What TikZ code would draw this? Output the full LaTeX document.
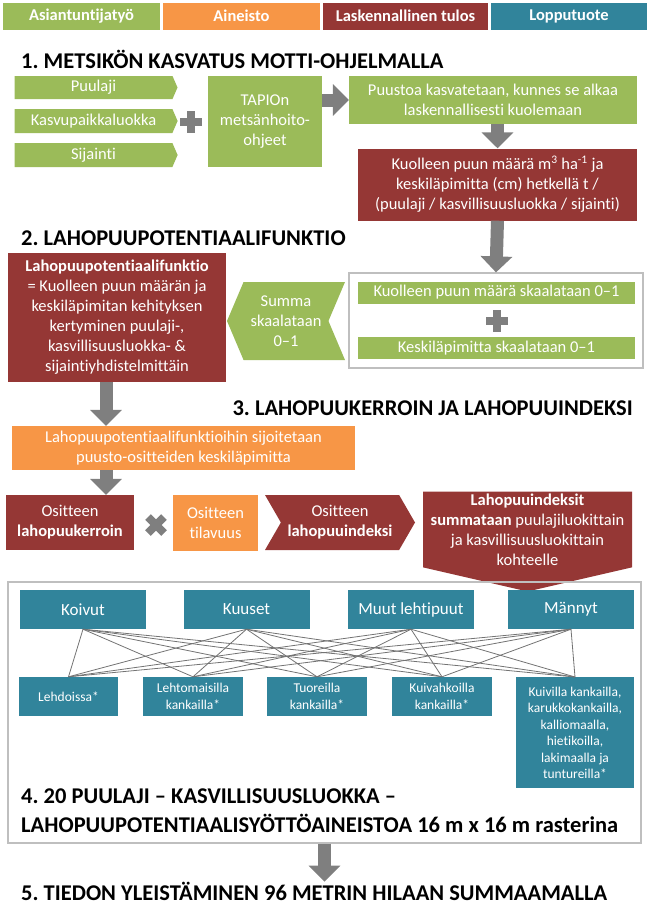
\documentclass[tikz,border=0pt]{standalone}
\usepackage{fontspec}
\setmainfont{Carlito}[Ligatures=NoCommon]
\usepackage{tikz}
\usetikzlibrary{arrows.meta,positioning,shapes.symbols}
\frenchspacing
\definecolor{expertgreen}{HTML}{9BBB59}
\definecolor{dataorange}{HTML}{F79646}
\definecolor{resultred}{HTML}{953735}
\definecolor{productteal}{HTML}{31849B}
\definecolor{arrowgray}{HTML}{7F7F7F}
\definecolor{framegray}{HTML}{BFBFBF}
\tikzset{
  flow-box/.style={inner sep=2pt, align=center, text=white,
    font=\fontsize{16.5}{20}\selectfont},
  expert-box/.style={flow-box, fill=expertgreen},
  data-box/.style={flow-box, fill=dataorange},
  result-box/.style={flow-box, fill=resultred},
  product-box/.style={flow-box, fill=productteal},
  legend-box/.style={flow-box, minimum height=27pt, font=\bfseries\fontsize{16.5}{18}\selectfont},
  stage-title/.style={font=\bfseries\fontsize{22.5}{29}\selectfont, inner sep=0pt, align=left},
  block-arrow/.style={arrowgray, line width=13pt, -{Triangle[length=16pt, width=31pt]}},
  op-mark/.style={arrowgray, line width=8pt},
  frame-box/.style={draw=framegray, line width=1.2pt, inner sep=0pt},
  mesh-line/.style={draw=black!55, line width=0.8pt}
}

\begin{document}
\begin{tikzpicture}[x=1pt, y=-1pt]
  \useasboundingbox (0,0) rectangle (650,918);

  % Legend
  \node[legend-box, fill=expertgreen, minimum width=157pt] (legexp) at (81.5,16) {Asiantuntijatyö};
  \node[legend-box, fill=dataorange, minimum width=157pt] (legdat) at (241.5,16) {Aineisto};
  \node[legend-box, fill=resultred, minimum width=165pt] (legres) at (405.5,16) {Laskennallinen tulos};
  \node[legend-box, fill=productteal, minimum width=156pt] (legpro) at (569,16) {Lopputuote};

  % --- 1. Metsikon kasvatus ---
  \node[stage-title, anchor=west] (title1) at (21,59) {1. METSIKÖN KASVATUS MOTTI-OHJELMALLA};
  \node[expert-box, signal, signal to=east, signal pointer angle=133,
    minimum width=163pt, minimum height=23pt] (s1pu) at (93.5,87.5) {Puulaji};
  \node[expert-box, signal, signal to=east, signal pointer angle=133,
    minimum width=163pt, minimum height=24pt] (s1kas) at (93.5,121) {Kasvupaikkaluokka};
  \node[expert-box, signal, signal to=east, signal pointer angle=133,
    minimum width=163pt, minimum height=24pt] (s1sij) at (93.5,155) {Sijainti};
  \draw[op-mark] (191,111) -- (191,133) (180,122) -- (202,122);
  \node[expert-box, minimum width=114pt, minimum height=91pt] (s1tap) at (265,121.5) {TAPIOn\\metsänhoito-\\ohjeet};
  \node[expert-box, minimum width=288pt, minimum height=48pt] (s1kasv) at (493,100)
    {Puustoa kasvatetaan, kunnes se alkaa\\laskennallisesti kuolemaan};
  \node[result-box, minimum width=279pt, minimum height=72pt] (s1kuol) at (497.5,184.5)
    {Kuolleen puun määrä m\textsuperscript{3} ha\textsuperscript{-1} ja\\keskiläpimitta (cm) hetkellä t /\\(puulaji / kasvillisuusluokka / sijainti)};
  \draw[block-arrow] (s1tap.east |- s1kasv) -- (s1kasv.west);
  \draw[block-arrow] (s1kasv.south -| s1kuol) -- (s1kuol.north);

  % --- 2. Lahopuupotentiaalifunktio ---
  \node[stage-title, anchor=west] (title2) at (21,238) {2. LAHOPUUPOTENTIAALIFUNKTIO};
  \node[frame-box, minimum width=294pt, minimum height=95pt] (s2fr) at (496,320.5) {};
  \node[expert-box, minimum width=277pt, minimum height=22pt] (s2maa) at (496.5,292.5) {Kuolleen puun määrä skaalataan 0–1};
  \node[expert-box, minimum width=277pt, minimum height=22pt] (s2lap) at (496.5,348) {Keskiläpimitta skaalataan 0–1};
  \draw[op-mark] (497,310) -- (497,332) (486,321) -- (508,321);
  \node[expert-box, signal, signal to=west, signal from=east, signal pointer angle=134,
    minimum width=118pt, minimum height=78pt] (s2sum) at (286,321) {Summa\\skaalataan\\0–1};
  \node[result-box, minimum width=218pt, minimum height=129pt] (s2fun) at (117,317.5)
    {\textbf{Lahopuupotentiaalifunktio}\\= Kuolleen puun määrän ja\\keskiläpimitan kehityksen\\kertyminen puulaji-,\\kasvillisuusluokka- \&\\sijaintiyhdistelmittäin};
  \draw[block-arrow] (s1kuol.south) -- (s2fr.north);

  % --- 3. Lahopuukerroin ja lahopuuindeksi ---
  \node[stage-title, anchor=east] (title3) at (633,408) {3. LAHOPUUKERROIN JA LAHOPUUINDEKSI};
  \coordinate (drop) at (106,0);
  \node[data-box, minimum width=343pt, minimum height=44pt] (s3sij) at (183.5,448)
    {Lahopuupotentiaalifunktioihin sijoitetaan\\puusto-ositteiden keskiläpimitta};
  \node[result-box, minimum width=128pt, minimum height=55pt] (s3ker) at (70,522.5) {Ositteen\\\textbf{lahopuukerroin}};
  \draw[op-mark] (148,517) -- (164,533) (148,533) -- (164,517);
  \node[data-box, minimum width=85pt, minimum height=56pt] (s3til) at (215.5,523) {Ositteen\\tilavuus};
  \node[result-box, signal, signal from=west, signal to=east, signal pointer angle=120,
    minimum width=150pt, minimum height=55pt] (s3ind) at (340,522.5) {Ositteen\\\textbf{lahopuuindeksi}};
  \node[result-box, signal, signal to=south, signal pointer angle=154,
    minimum width=209pt, minimum height=93pt] (s3sum) at (527.5,529.5)
    {\textbf{Lahopuuindeksit}\\\textbf{summataan} puulajiluokittain\\ja kasvillisuusluokittain\\kohteelle};
  \draw[block-arrow] (s2fun.south -| drop) -- (s3sij.north -| drop);
  \draw[block-arrow] (s3sij.south -| drop) -- (s3ker.north -| drop);

  % --- 4. Syottoaineisto ---
  \node[frame-box, minimum width=633pt, minimum height=261pt] (s4fr) at (324.5,712.5) {};
  \foreach \nm/\x/\txt in {koi/83/Koivut, kuu/246.5/Kuuset, muu/411/Muut lehtipuut, man/571/Männyt}
    \node[product-box, font=\fontsize{17}{20}\selectfont, minimum width=126pt, minimum height=39pt] (s4\nm) at (\x,609.5) {\txt};
  \node[product-box, font=\fontsize{13.5}{16.5}\selectfont, minimum width=99pt, minimum height=39pt] (s4leh) at (68.5,696.5) {Lehdoissa*};
  \node[product-box, font=\fontsize{13.5}{16.5}\selectfont, minimum width=100pt, minimum height=39pt] (s4lem) at (193,696.5) {Lehtomaisilla\\kankailla*};
  \node[product-box, font=\fontsize{13.5}{16.5}\selectfont, minimum width=100pt, minimum height=39pt] (s4tuo) at (317,696.5) {Tuoreilla\\kankailla*};
  \node[product-box, font=\fontsize{13.5}{16.5}\selectfont, minimum width=100pt, minimum height=39pt] (s4kvh) at (442,696.5) {Kuivahkoilla\\kankailla*};
  \node[product-box, font=\fontsize{13.5}{16.5}\selectfont, minimum width=118pt, minimum height=111pt, anchor=north] (s4kui) at (575,677)
    {Kuivilla kankailla,\\karukkokankailla,\\kalliomaalla,\\hietikoilla,\\lakimaalla ja\\tuntureilla*};
  \foreach \tp in {koi,kuu,muu,man}
    \foreach \bt in {leh,lem,tuo,kvh,kui}
      \draw[mesh-line] (s4\tp.south) -- (s4\bt.north);
  \node[stage-title, anchor=west] (title4) at (21,811)
    {4. 20 PUULAJI – KASVILLISUUSLUOKKA –\\LAHOPUUPOTENTIAALISYÖTTÖAINEISTOA 16 m x 16 m rasterina};

  % --- 5. Yleistaminen ---
  \node[stage-title, anchor=west] (title5) at (21,891) {5. TIEDON YLEISTÄMINEN 96 METRIN HILAAN SUMMAAMALLA};
  \draw[block-arrow] (s4fr.south) -- (s4fr.south |- title5.north);
\end{tikzpicture}
\end{document}
